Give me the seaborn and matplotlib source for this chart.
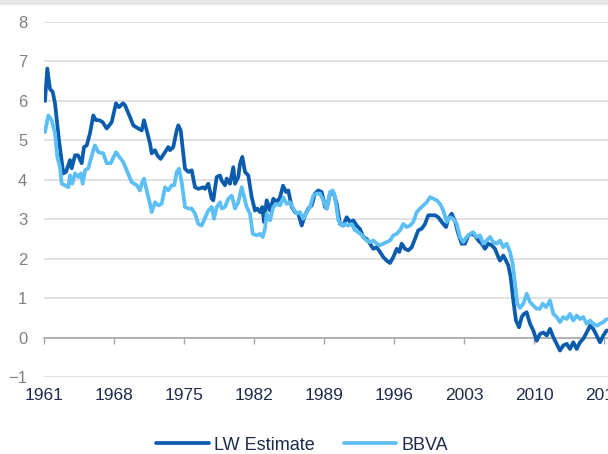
import matplotlib
matplotlib.use("Agg")
import matplotlib.pyplot as plt
from matplotlib.patches import Rectangle
import pandas as pd
import seaborn as sns

LW_YEARS = [1961.10, 1961.33, 1961.60, 1961.87, 1962.10, 1962.50, 1962.93, 1963.20, 1963.60, 1963.77,
            1964.10, 1964.40, 1964.77, 1965.00, 1965.27, 1965.60, 1965.93, 1966.20, 1966.53, 1966.87,
            1967.27, 1967.77, 1968.20, 1968.50, 1968.90, 1969.10, 1969.60, 1969.93, 1970.43, 1970.77,
            1971.00, 1971.27, 1971.60, 1971.77, 1972.10, 1972.33, 1972.67, 1973.10, 1973.43, 1973.60,
            1973.93, 1974.27, 1974.43, 1974.67, 1975.10, 1975.43, 1975.77, 1976.10, 1976.43, 1976.93,
            1977.10, 1977.43, 1977.77, 1977.93, 1978.27, 1978.60, 1978.77, 1979.10, 1979.27, 1979.60,
            1979.93, 1980.10, 1980.43, 1980.60, 1980.83, 1981.10, 1981.43, 1981.77, 1982.10, 1982.33,
            1982.60, 1982.83, 1983.00, 1983.27, 1983.60, 1983.93, 1984.27, 1984.60, 1984.90, 1985.20,
            1985.43, 1985.77, 1986.10, 1986.43, 1986.77, 1987.10, 1987.43, 1987.77, 1988.10, 1988.43,
            1988.77, 1988.93, 1989.10, 1989.27, 1989.60, 1989.93, 1990.27, 1990.60, 1990.93, 1991.27,
            1991.60, 1991.93, 1992.27, 1992.60, 1992.93, 1993.27, 1993.60, 1993.93, 1994.27, 1994.60,
            1994.93, 1995.27, 1995.60, 1995.93, 1996.27, 1996.53, 1996.77, 1997.10, 1997.43, 1997.77,
            1998.10, 1998.43, 1998.77, 1999.10, 1999.43, 1999.77, 2000.10, 2000.43, 2000.77, 2001.20,
            2001.43, 2001.77, 2002.10, 2002.43, 2002.77, 2003.10, 2003.43, 2003.77, 2004.10, 2004.43,
            2004.77, 2005.10, 2005.43, 2005.77, 2006.10, 2006.43, 2006.60, 2006.93, 2007.10, 2007.43,
            2007.67, 2007.93, 2008.20, 2008.50, 2008.77, 2009.00, 2009.27, 2009.60, 2009.93, 2010.27,
            2010.60, 2010.93, 2011.27, 2011.60, 2011.93, 2012.27, 2012.60, 2012.93, 2013.27, 2013.60,
            2013.93, 2014.27, 2014.60, 2014.93, 2015.27, 2015.60, 2015.93, 2016.27, 2016.60, 2016.93,
            2017.27]
LW_VALUES = [6.00, 6.82, 6.30, 6.23, 5.94, 5.00, 4.16, 4.20, 4.50, 4.29,
             4.62, 4.62, 4.42, 4.83, 4.87, 5.18, 5.63, 5.51, 5.51, 5.46,
             5.30, 5.46, 5.94, 5.84, 5.94, 5.89, 5.59, 5.38, 5.30, 5.25,
             5.51, 5.25, 4.92, 4.67, 4.75, 4.62, 4.53, 4.70, 4.83, 4.75,
             4.83, 5.25, 5.38, 5.25, 4.28, 4.20, 4.24, 3.81, 3.77, 3.81,
             3.77, 3.90, 3.52, 3.48, 4.07, 4.11, 3.98, 3.86, 4.03, 3.90,
             4.32, 3.90, 4.07, 4.41, 4.58, 4.20, 4.11, 3.56, 3.22, 3.27,
             3.18, 3.31, 2.93, 3.48, 3.22, 3.52, 3.43, 3.55, 3.85, 3.69,
             3.73, 3.31, 3.18, 3.14, 2.84, 3.10, 3.27, 3.35, 3.65, 3.73,
             3.69, 3.52, 3.31, 3.27, 3.65, 3.69, 3.39, 2.88, 2.84, 3.05,
             2.93, 2.97, 2.84, 2.75, 2.55, 2.50, 2.38, 2.25, 2.29, 2.17,
             2.04, 1.95, 1.89, 2.04, 2.25, 2.17, 2.38, 2.25, 2.21, 2.29,
             2.50, 2.72, 2.76, 2.88, 3.10, 3.10, 3.10, 3.05, 2.93, 2.80,
             3.01, 3.14, 2.95, 2.63, 2.38, 2.38, 2.59, 2.63, 2.59, 2.46,
             2.38, 2.25, 2.38, 2.34, 2.25, 2.04, 1.95, 2.08, 2.00, 1.83,
             1.53, 0.94, 0.43, 0.26, 0.52, 0.60, 0.64, 0.35, 0.18, -0.08,
             0.09, 0.13, 0.05, 0.22, 0.01, -0.16, -0.33, -0.20, -0.16, -0.29,
             -0.12, -0.29, -0.12, -0.03, 0.13, 0.30, 0.22, 0.05, -0.12, 0.05,
             0.18]

BBVA_YEARS = [1961.10, 1961.43, 1961.77, 1962.10, 1962.33, 1962.60, 1962.77, 1963.10, 1963.43, 1963.60,
              1963.83, 1964.10, 1964.43, 1964.67, 1964.87, 1965.10, 1965.43, 1965.93, 1966.10, 1966.43,
              1966.93, 1967.27, 1967.67, 1968.20, 1968.53, 1968.93, 1969.27, 1969.77, 1970.27, 1970.60,
              1970.77, 1971.00, 1971.27, 1971.60, 1971.77, 1972.10, 1972.43, 1972.77, 1973.10, 1973.43,
              1973.77, 1974.03, 1974.27, 1974.50, 1974.77, 1975.10, 1975.43, 1975.77, 1976.10, 1976.43,
              1976.77, 1977.10, 1977.43, 1977.77, 1978.00, 1978.27, 1978.60, 1978.77, 1979.10, 1979.43,
              1979.77, 1980.10, 1980.43, 1980.77, 1980.93, 1981.27, 1981.60, 1981.87, 1982.27, 1982.60,
              1982.87, 1983.10, 1983.27, 1983.60, 1983.93, 1984.27, 1984.60, 1984.93, 1985.27, 1985.60,
              1985.93, 1986.27, 1986.60, 1986.93, 1987.27, 1987.60, 1987.93, 1988.27, 1988.60, 1988.93,
              1989.27, 1989.60, 1989.87, 1990.10, 1990.43, 1990.77, 1991.10, 1991.43, 1991.77, 1992.10,
              1992.43, 1992.77, 1993.10, 1993.27, 1993.60, 1993.93, 1994.27, 1994.60, 1994.93, 1995.27,
              1995.60, 1995.93, 1996.27, 1996.60, 1996.93, 1997.27, 1997.60, 1997.93, 1998.27, 1998.60,
              1998.93, 1999.27, 1999.60, 1999.93, 2000.27, 2000.60, 2000.93, 2001.27, 2001.60, 2001.93,
              2002.27, 2002.60, 2002.93, 2003.27, 2003.60, 2003.93, 2004.27, 2004.60, 2004.93, 2005.27,
              2005.60, 2005.93, 2006.27, 2006.60, 2006.93, 2007.27, 2007.60, 2007.87, 2008.10, 2008.33,
              2008.60, 2008.93, 2009.27, 2009.60, 2009.93, 2010.27, 2010.60, 2010.87, 2011.20, 2011.60,
              2011.93, 2012.27, 2012.60, 2012.93, 2013.27, 2013.60, 2013.93, 2014.27, 2014.60, 2014.93,
              2015.27, 2015.60, 2015.93, 2016.27, 2016.60, 2016.93, 2017.27]
BBVA_VALUES = [5.21, 5.63, 5.51, 5.18, 4.58, 4.32, 3.90, 3.86, 3.81, 4.11,
               3.90, 4.16, 4.07, 4.16, 3.90, 4.24, 4.29, 4.75, 4.87, 4.70,
               4.67, 4.42, 4.42, 4.70, 4.58, 4.45, 4.24, 3.94, 3.86, 3.73,
               3.90, 4.03, 3.73, 3.39, 3.18, 3.43, 3.35, 3.39, 3.81, 3.73,
               3.86, 3.86, 4.20, 4.28, 3.94, 3.31, 3.27, 3.27, 3.14, 2.88,
               2.84, 3.03, 3.22, 3.31, 3.01, 3.31, 3.43, 3.27, 3.31, 3.52,
               3.60, 3.27, 3.43, 3.81, 3.65, 3.31, 3.14, 2.63, 2.59, 2.63,
               2.55, 2.76, 3.14, 2.97, 3.31, 3.39, 3.35, 3.55, 3.39, 3.43,
               3.27, 3.14, 3.18, 3.01, 3.18, 3.31, 3.60, 3.65, 3.65, 3.48,
               3.27, 3.69, 3.73, 3.56, 2.97, 2.84, 2.88, 2.84, 2.88, 2.72,
               2.67, 2.60, 2.50, 2.46, 2.42, 2.46, 2.38, 2.34, 2.38, 2.42,
               2.46, 2.59, 2.63, 2.72, 2.88, 2.80, 2.84, 2.93, 3.18, 3.27,
               3.35, 3.43, 3.56, 3.52, 3.48, 3.39, 3.22, 2.93, 3.05, 3.01,
               2.88, 2.55, 2.42, 2.55, 2.63, 2.67, 2.55, 2.59, 2.38, 2.46,
               2.55, 2.42, 2.38, 2.46, 2.29, 2.38, 2.17, 1.87, 1.36, 0.86,
               0.75, 0.86, 1.11, 0.90, 0.81, 0.73, 0.73, 0.86, 0.77, 0.94,
               0.60, 0.52, 0.39, 0.52, 0.47, 0.60, 0.43, 0.56, 0.47, 0.52,
               0.35, 0.43, 0.35, 0.30, 0.35, 0.39, 0.47]

SERIES = ["LW Estimate", "BBVA"]
TICK_YEARS = [1961, 1968, 1975, 1982, 1989, 1996, 2003, 2010, 2017]
Y_TICKS = [-1, 0, 1, 2, 3, 4, 5, 6, 7, 8]

DARK = "#0c5cae"
LIGHT = "#5bbff6"
NAVY = "#1d2a4a"

df = pd.concat([
    pd.DataFrame({"year": LW_YEARS, "value": LW_VALUES, "series": SERIES[0]}),
    pd.DataFrame({"year": BBVA_YEARS, "value": BBVA_VALUES, "series": SERIES[1]}),
], ignore_index=True)

sns.set_theme(style="white")
plt.rcParams["font.family"] = ["Liberation Sans", "DejaVu Sans"]

W, H = 608, 454
fig = plt.figure(figsize=(W / 100, H / 100), dpi=100)
fig.patches.append(Rectangle((0, 1 - 5 / H), 1, 5 / H, transform=fig.transFigure,
                             facecolor="#e6e6e6", edgecolor="none", zorder=0))

ax = fig.add_axes([44 / W, 77 / H, 576 / W, 355 / H])
sns.lineplot(data=df, x="year", y="value", hue="series", hue_order=SERIES,
             palette={SERIES[0]: DARK, SERIES[1]: LIGHT}, estimator=None, sort=False,
             linewidth=2.7, ax=ax)
for ln in ax.lines:
    ln.set_zorder(3)
    ln.set_solid_joinstyle("round")

ax.set_xlim(1961, 2018.6)
ax.set_ylim(-1, 8)
ax.set_xlabel("")
ax.set_ylabel("")
ax.set_yticks(Y_TICKS)
ax.yaxis.grid(True, color="#d9d9d9", linewidth=1.1)
ax.xaxis.grid(False)
for s in ["top", "right", "left"]:
    ax.spines[s].set_visible(False)
ax.spines["bottom"].set_position(("data", 0))
ax.spines["bottom"].set_color("#a6a6a6")
ax.spines["bottom"].set_linewidth(1.1)
ax.spines["bottom"].set_zorder(2.5)
ax.set_xticks(TICK_YEARS)
ax.tick_params(axis="x", direction="out", length=4, width=1, color="#a6a6a6",
               labelbottom=False, bottom=True)
ax.tick_params(axis="y", length=0, pad=12, labelsize=12, labelcolor="#808080")

sec = ax.secondary_xaxis("bottom")
sec.set_xticks(TICK_YEARS, labels=[str(y) for y in TICK_YEARS])
sec.tick_params(length=0, pad=8, labelsize=12.5, labelcolor=NAVY)
sec.spines["bottom"].set_visible(False)

handles, labels = ax.get_legend_handles_labels()
if ax.get_legend() is not None:
    ax.get_legend().remove()
fig.legend(handles, labels, loc="center", bbox_to_anchor=(0.497, 9 / H), ncol=2,
           frameon=False, fontsize=13, handlelength=2.9, handletextpad=0.3,
           columnspacing=1.6, labelcolor=NAVY)

fig.savefig("out.png", dpi=100)
